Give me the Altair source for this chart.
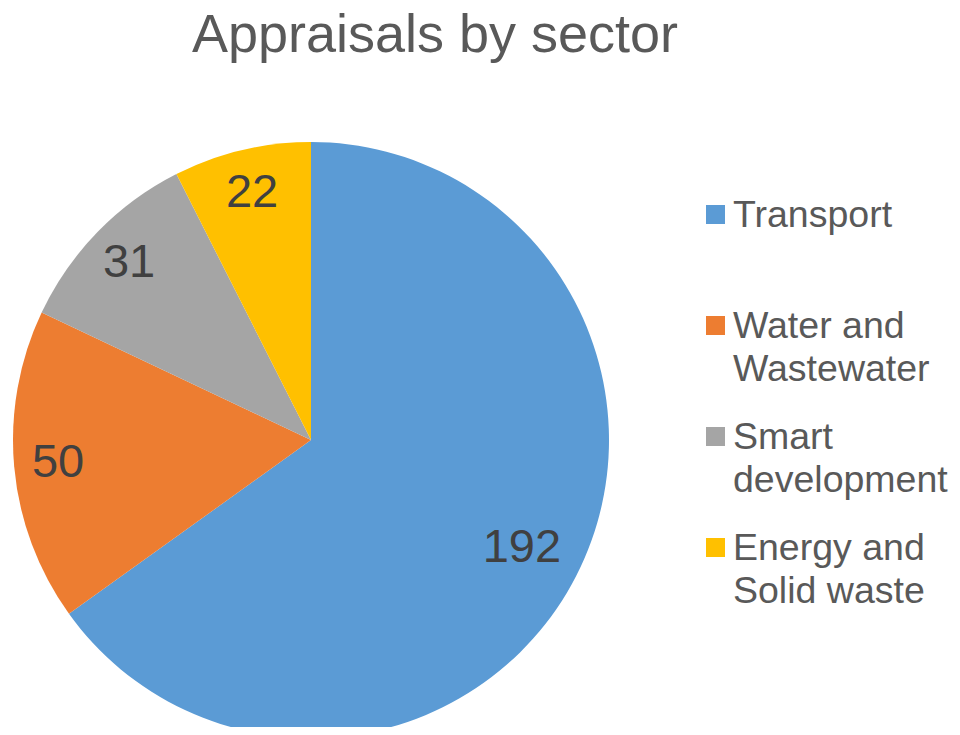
import altair as alt
import pandas as pd

# ---- data ----
title_text = "Appraisals by sector"
sectors = ["Transport", "Water and Wastewater", "Smart development", "Energy and Solid waste"]
legend_labels = ["Transport", "Water and\nWastewater", "Smart\ndevelopment", "Energy and\nSolid waste"]
values = [192, 50, 31, 22]
order = [1, 2, 3, 4]
colors = ["#5B9BD5", "#ED7D31", "#A5A5A5", "#FFC000"]

df = pd.DataFrame({
    "sector": sectors,
    "legend": legend_labels,
    "value": values,
    "order": order,
})

FONT = "Liberation Sans"
CX, CY, R = 303, 432, 298

color = alt.Color("sector:N", scale=alt.Scale(domain=sectors, range=colors), legend=None)
theta = alt.Theta("value:Q", stack=True)

base = alt.Chart(df)

pie = base.mark_arc(radius=R).encode(
    theta=theta,
    color=color,
    order=alt.Order("order:Q"),
    x=alt.value(CX),
    y=alt.value(CY),
)


def label_layer(radius, test):
    return base.mark_text(
        font=FONT, fontSize=47, color="#404040", align="center", baseline="middle",
        radius=radius,
    ).encode(
        theta=theta,
        detail="sector:N",
        order=alt.Order("order:Q"),
        text=alt.condition(test, alt.Text("value:Q"), alt.value("")),
        x=alt.value(CX),
        y=alt.value(CY),
    )


labels_big = label_layer(237, "datum.value > 100")
labels_small = label_layer(254, "datum.value <= 100")

legend_y = alt.Y(
    "order:Q",
    scale=alt.Scale(domain=[1, 4], range=[206.5, 539.5]),
    axis=None,
)

legend_sq = base.mark_square(size=361, opacity=1, filled=True).encode(
    x=alt.value(707.5),
    y=legend_y,
    color=color,
)

legend_txt = base.mark_text(
    font=FONT, fontSize=37.5, color="#595959", align="left", baseline="alphabetic",
    lineBreak="\n", lineHeight=43, dy=12.5,
).encode(
    x=alt.value(725),
    y=legend_y,
    text="legend:N",
)

title = alt.Chart(pd.DataFrame({"t": [title_text]})).mark_text(
    font=FONT, fontSize=54, color="#595959", align="center", baseline="alphabetic"
).encode(
    text="t:N",
    x=alt.value(427),
    y=alt.value(44),
)

chart = alt.layer(pie, labels_big, labels_small, legend_sq, legend_txt, title).properties(
    width=944, height=719, padding=0, autosize="none", background="white"
).configure_view(stroke=None)

chart.save("out.html", embed_options={"renderer": "svg", "actions": False})
